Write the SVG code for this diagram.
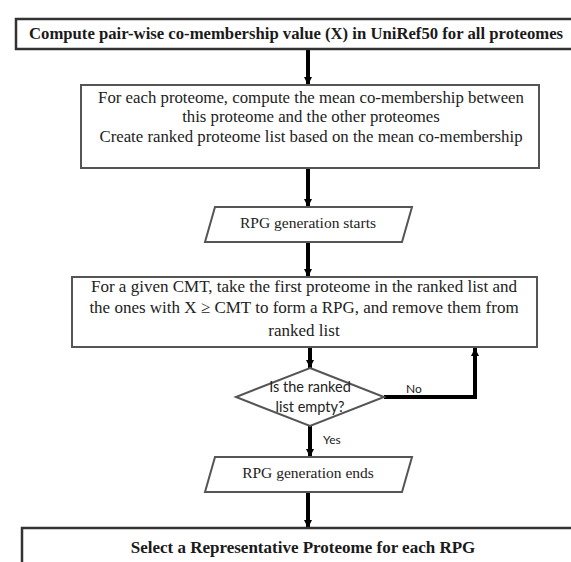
<svg xmlns="http://www.w3.org/2000/svg" width="571" height="562" viewBox="0 0 571 562">
  <style>
    .bg { fill: #ffffff; }
    .box { fill: #ffffff; stroke: #555555; stroke-width: 2; }
    .hbox { fill: #ffffff; stroke: #333333; stroke-width: 2.5; }
    .t { font-family: "Liberation Serif", "Times New Roman", serif; font-size: 16.8px; fill: #222222; text-anchor: middle; }
    .tp { font-family: "Liberation Serif", "Times New Roman", serif; font-size: 15.5px; fill: #222222; text-anchor: middle; }
    .tb { font-family: "Liberation Serif", "Times New Roman", serif; font-size: 17px; font-weight: bold; fill: #1a1a1a; }
    .ts { font-family: Lato, "Open Sans", sans-serif; font-size: 14.5px; fill: #222222; text-anchor: middle; }
    .lbl { font-family: Lato, "Open Sans", sans-serif; font-size: 12px; fill: #222222; }
    .conn { fill: none; stroke: #000000; stroke-width: 4; marker-end: url(#head); }
  </style>
  <defs>
    <marker id="head" viewBox="0 0 10 10" refX="10" refY="5" markerWidth="2.4" markerHeight="2" orient="auto" markerUnits="strokeWidth">
      <path d="M0,0 L10,5 L0,10 Z" fill="#000000"/>
    </marker>
  </defs>

  <rect class="bg" x="0" y="0" width="571" height="562"/>

  <!-- flow connectors -->
  <g id="connectors">
    <line class="conn" x1="308" y1="49" x2="308" y2="85"/>
    <line class="conn" x1="308" y1="168" x2="308" y2="207"/>
    <line class="conn" x1="308" y1="242" x2="308" y2="277"/>
    <line class="conn" x1="310" y1="347" x2="310" y2="368"/>
    <polyline class="conn" points="384,397 475,397 475,348"/>
    <line class="conn" x1="310" y1="426" x2="310" y2="457"/>
    <line class="conn" x1="308" y1="492" x2="308" y2="528"/>
    <text class="lbl" x="406" y="393">No</text>
    <text class="lbl" x="323" y="444">Yes</text>
  </g>

  <!-- step 1: pair-wise co-membership -->
  <g id="compute-comembership">
    <rect class="hbox" x="16" y="19" width="570" height="30"/>
    <text class="tb" x="29" y="39" style="font-size:16.7px">Compute pair-wise co-membership value (X) in UniRef50 for all proteomes</text>
  </g>

  <!-- step 2: ranked proteome list -->
  <g id="ranked-list">
    <rect class="box" x="81" y="85" width="458" height="83"/>
    <text class="t" x="311" y="103">For each proteome, compute the mean co-membership between</text>
    <text class="t" x="311" y="122">this proteome and the other proteomes</text>
    <text class="t" x="311" y="142">Create ranked proteome list based on the mean co-membership</text>
  </g>

  <!-- loop start -->
  <g id="rpg-start">
    <polygon class="box" points="215,207 412,207 402,242 205,242"/>
    <text class="tp" x="308" y="228">RPG generation starts</text>
  </g>

  <!-- step 3: form one RPG -->
  <g id="form-rpg">
    <rect class="box" x="72" y="277" width="465" height="70"/>
    <text class="t" x="304" y="292" style="font-size:17px">For a given CMT, take the first proteome in the ranked list and</text>
    <text class="t" x="304" y="313" style="font-size:17px">the ones with X ≥ CMT to form a RPG, and remove them from</text>
    <text class="t" x="304" y="336" style="font-size:17px">ranked list</text>
  </g>

  <!-- decision -->
  <g id="list-empty">
    <polygon class="box" points="310,368 384,397 310,426 236,397"/>
    <text class="ts" x="310" y="392">Is the ranked</text>
    <text class="ts" x="310" y="412">list empty?</text>
  </g>

  <!-- loop end -->
  <g id="rpg-end">
    <polygon class="box" points="215,457 412,457 402,492 205,492"/>
    <text class="tp" x="308" y="478">RPG generation ends</text>
  </g>

  <!-- step 4: representative proteome -->
  <g id="select-rp">
    <rect class="hbox" x="22" y="528" width="570" height="50"/>
    <text class="tb" x="303" y="553" text-anchor="middle">Select a Representative Proteome for each RPG</text>
  </g>
</svg>
